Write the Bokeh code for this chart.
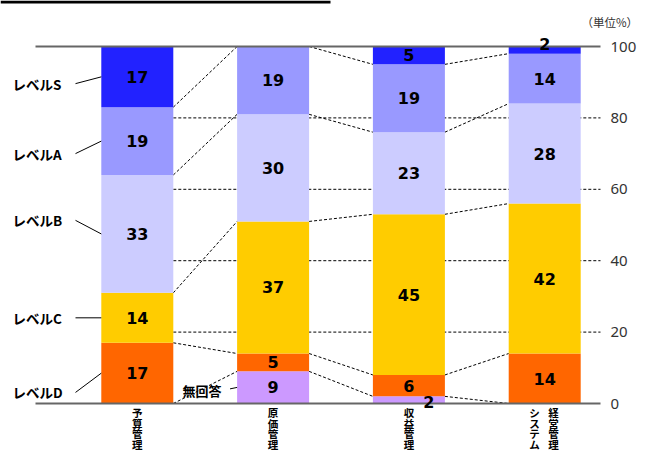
import numpy as np
from bokeh.plotting import figure
from bokeh.models import ColumnDataSource, Range1d
from bokeh.core.properties import value
from bokeh.embed import file_html
from bokeh.resources import INLINE

# ---------------- data ----------------
categories = ["予算管理", "原価管理", "収益管理", "経営管理システム"]
label_columns = [["予算管理"], ["原価管理"], ["収益管理"], ["経営管理", "システム"]]
levels = ["無回答", "レベルD", "レベルC", "レベルB", "レベルA", "レベルS"]
no_answer = [0, 9, 2, 0]
level_d = [17, 5, 6, 14]
level_c = [14, 37, 45, 42]
level_b = [33, 30, 23, 28]
level_a = [19, 19, 19, 14]
level_s = [17, 0, 5, 2]
y_ticks = [0, 20, 40, 60, 80, 100]
unit_label = "（単位%）"

# ---------------- layout / style ----------------
colors = ["#CC99FF", "#FF6600", "#FFCC00", "#CCCCFF", "#9999FF", "#2222FF"]
W, H = 639, 453
PXX = 135.8            # px per category unit
X0 = 136.8             # canvas px of first category
PXY = 3.57             # px per percent
Y0 = 403.0             # canvas px of 0%
x_start = -X0 / PXX
x_end = (W - X0) / PXX
y_end = Y0 / PXY
y_start = -(H - Y0) / PXY
bar_w = 72 / PXX
line_left = (35 - X0) / PXX
line_right = (600 - X0) / PXX
jp_font = value("Noto Sans CJK JP")
num_font = value("DejaVu Sans")

series = [no_answer, level_d, level_c, level_b, level_a, level_s]
keys = ["s%d" % k for k in range(len(series))]
xs = list(range(len(categories)))
data = {"x": xs}
for k, s in zip(keys, series):
    data[k] = s
source = ColumnDataSource(data)

vals = np.array(series, dtype=float)          # levels x categories
tops = np.cumsum(vals, axis=0)
bottoms = tops - vals

p = figure(width=W, height=H, x_range=Range1d(x_start, x_end), y_range=Range1d(y_start, y_end),
           output_backend="svg", toolbar_location=None, x_axis_location=None,
           y_axis_location=None, min_border=0, outline_line_color=None)
p.grid.visible = False

# header rule at the very top
p.segment(x0=[x_start], y0=[y_end - 1.5 / PXY], x1=[(330 - X0) / PXX], y1=[y_end - 1.5 / PXY],
          line_color="black", line_width=3)

# dashed grid lines between bars
gy = [t for t in y_ticks if 0 < t < 100]
p.segment(x0=[bar_w / 2] * len(gy), y0=gy, x1=[line_right] * len(gy), y1=gy,
          line_color="black", line_width=1, line_dash="3 2")

# connectors between stacks
cx0, cy0, cx1, cy1 = [], [], [], []
for i in range(len(categories) - 1):
    for k in range(len(series)):
        cx0.append(i + bar_w / 2); cy0.append(tops[k, i])
        cx1.append(i + 1 - bar_w / 2); cy1.append(tops[k, i + 1])
p.segment(x0=cx0, y0=cy0, x1=cx1, y1=cy1, line_color="black", line_width=1, line_dash="3 2")

# stacked bars
p.vbar_stack(keys, x="x", width=bar_w, color=colors, line_color=None, source=source)

# solid lines at 0 and 100
p.segment(x0=[line_left, line_left], y0=[0, 100], x1=[line_right, line_right], y1=[0, 100],
          line_color="#666666", line_width=2)

# right-hand tick labels
p.text(x=[(610 - X0) / PXX] * len(y_ticks), y=y_ticks, text=[str(t) for t in y_ticks],
       text_align="left", text_baseline="middle", text_font=value("Noto Sans"),
       text_font_size="15px", text_color="#333333")

# unit label
p.text(x=[(581 - X0) / PXX], y=[(Y0 - 21) / PXY], text=[unit_label], text_align="left",
       text_baseline="middle", text_font=jp_font, text_font_size="11.5px", text_color="#333333")

# value labels
lx, ly, lt = [], [], []
for k in range(len(series)):
    for i in range(len(categories)):
        v = vals[k, i]
        if v <= 0:
            continue
        x, y = i, bottoms[k, i] + v / 2
        if v <= 2 and k == 0:
            x, y = i + 0.147, 0.3
        elif v <= 2 and k == len(series) - 1:
            y = 100.8
        lx.append(x); ly.append(y); lt.append("%d" % v)
p.text(x=lx, y=ly, text=lt, text_align="center", text_baseline="middle",
       text_font=num_font, text_font_style="bold", text_font_size="16px", text_color="black")

# level labels with leaders (bar 0), 無回答 beside bar 1
label_y = [None, 3.1, 24.0, 51.3, 70.0, 89.6]
my = label_y[1:]
mx = [(12 - X0) / PXX] * len(my)
mt = levels[1:]
p.text(x=mx, y=my, text=mt, text_align="left", text_baseline="middle",
       text_font=jp_font, text_font_style="bold", text_font_size="13.5px", text_color="black")
centers0 = [bottoms[k, 0] + vals[k, 0] / 2 for k in range(1, len(series))]
p.segment(x0=[(75 - X0) / PXX] * len(my), y0=my, x1=[-bar_w / 2] * len(my), y1=centers0,
          line_color="black", line_width=1)
na_c = bottoms[0, 1] + vals[0, 1] / 2
p.text(x=[1 - bar_w / 2 - 0.115], y=[na_c - 0.9], text=[levels[0]], text_align="right",
       text_baseline="middle", text_font=jp_font, text_font_style="bold",
       text_font_size="13px", text_color="black")
p.segment(x0=[1 - bar_w / 2 - 0.052], y0=[na_c - 0.4], x1=[1 - bar_w / 2], y1=[na_c],
          line_color="black", line_width=1)

# category labels (vertical, one glyph per character)
CHAR_STEP = 10.6       # px between stacked characters
FIRST_CHAR = 412.0     # canvas px of first character centre
tx, ty, tt = [], [], []
for i, cols in enumerate(label_columns):
    offs = [0.0] if len(cols) == 1 else [0.065, -0.075]
    for c, o in zip(cols, offs):
        for j, ch in enumerate(c):
            tx.append(i + o)
            ty.append((Y0 - (FIRST_CHAR + j * CHAR_STEP)) / PXY)
            tt.append(ch)
p.text(x=tx, y=ty, text=tt, text_align="center", text_baseline="middle",
       text_font=jp_font, text_font_style="bold", text_font_size="10.5px", text_color="black")

open("out.html", "w").write(file_html(p, INLINE))
